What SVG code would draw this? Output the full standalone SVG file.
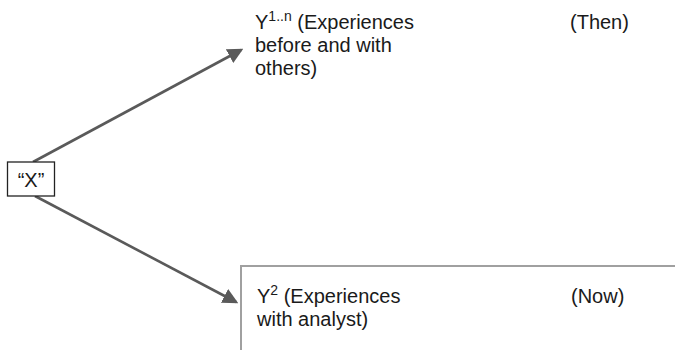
<svg xmlns="http://www.w3.org/2000/svg" width="675" height="350" viewBox="0 0 675 350">
<defs>
<style>
text{font-family:"Liberation Sans",Arial,sans-serif;font-size:20px;fill:#1a1a1a}
.sup{font-size:14px}
.conn{stroke:#5a5a5a;stroke-width:2.6;fill:none}
</style>
<marker id="ah" markerWidth="6" markerHeight="6" refX="5" refY="3" orient="auto" markerUnits="strokeWidth" viewBox="0 0 6 6">
<path d="M0,0 L6,3 L0,6 z" fill="#5a5a5a"/>
</marker>
</defs>
<rect width="675" height="350" fill="#fff"/>
<g id="connectors">
<line class="conn" x1="33" y1="162" x2="241" y2="50" marker-end="url(#ah)"/>
<line class="conn" x1="35" y1="196" x2="236" y2="302" marker-end="url(#ah)"/>
</g>
<g id="nodeX">
<rect x="7.5" y="162" width="47" height="34" fill="#fff" stroke="#222" stroke-width="1.3"/>
<text x="31" y="187" text-anchor="middle" font-size="21">“X”</text>
</g>
<g id="nodeY1">
<text x="255" y="29">Y<tspan class="sup" dy="-8">1..n</tspan><tspan dy="8"> (Experiences</tspan></text>
<text x="255" y="52">before and with</text>
<text x="255" y="75">others)</text>
<text x="570" y="29">(Then)</text>
</g>
<g id="nodeY2">
<path d="M241,352 V266 H676" fill="none" stroke="#a0a0a0" stroke-width="2"/>
<text x="257" y="303">Y<tspan class="sup" dy="-8">2</tspan><tspan dy="8"> (Experiences</tspan></text>
<text x="257" y="326">with analyst)</text>
<text x="571" y="303">(Now)</text>
</g>
</svg>
